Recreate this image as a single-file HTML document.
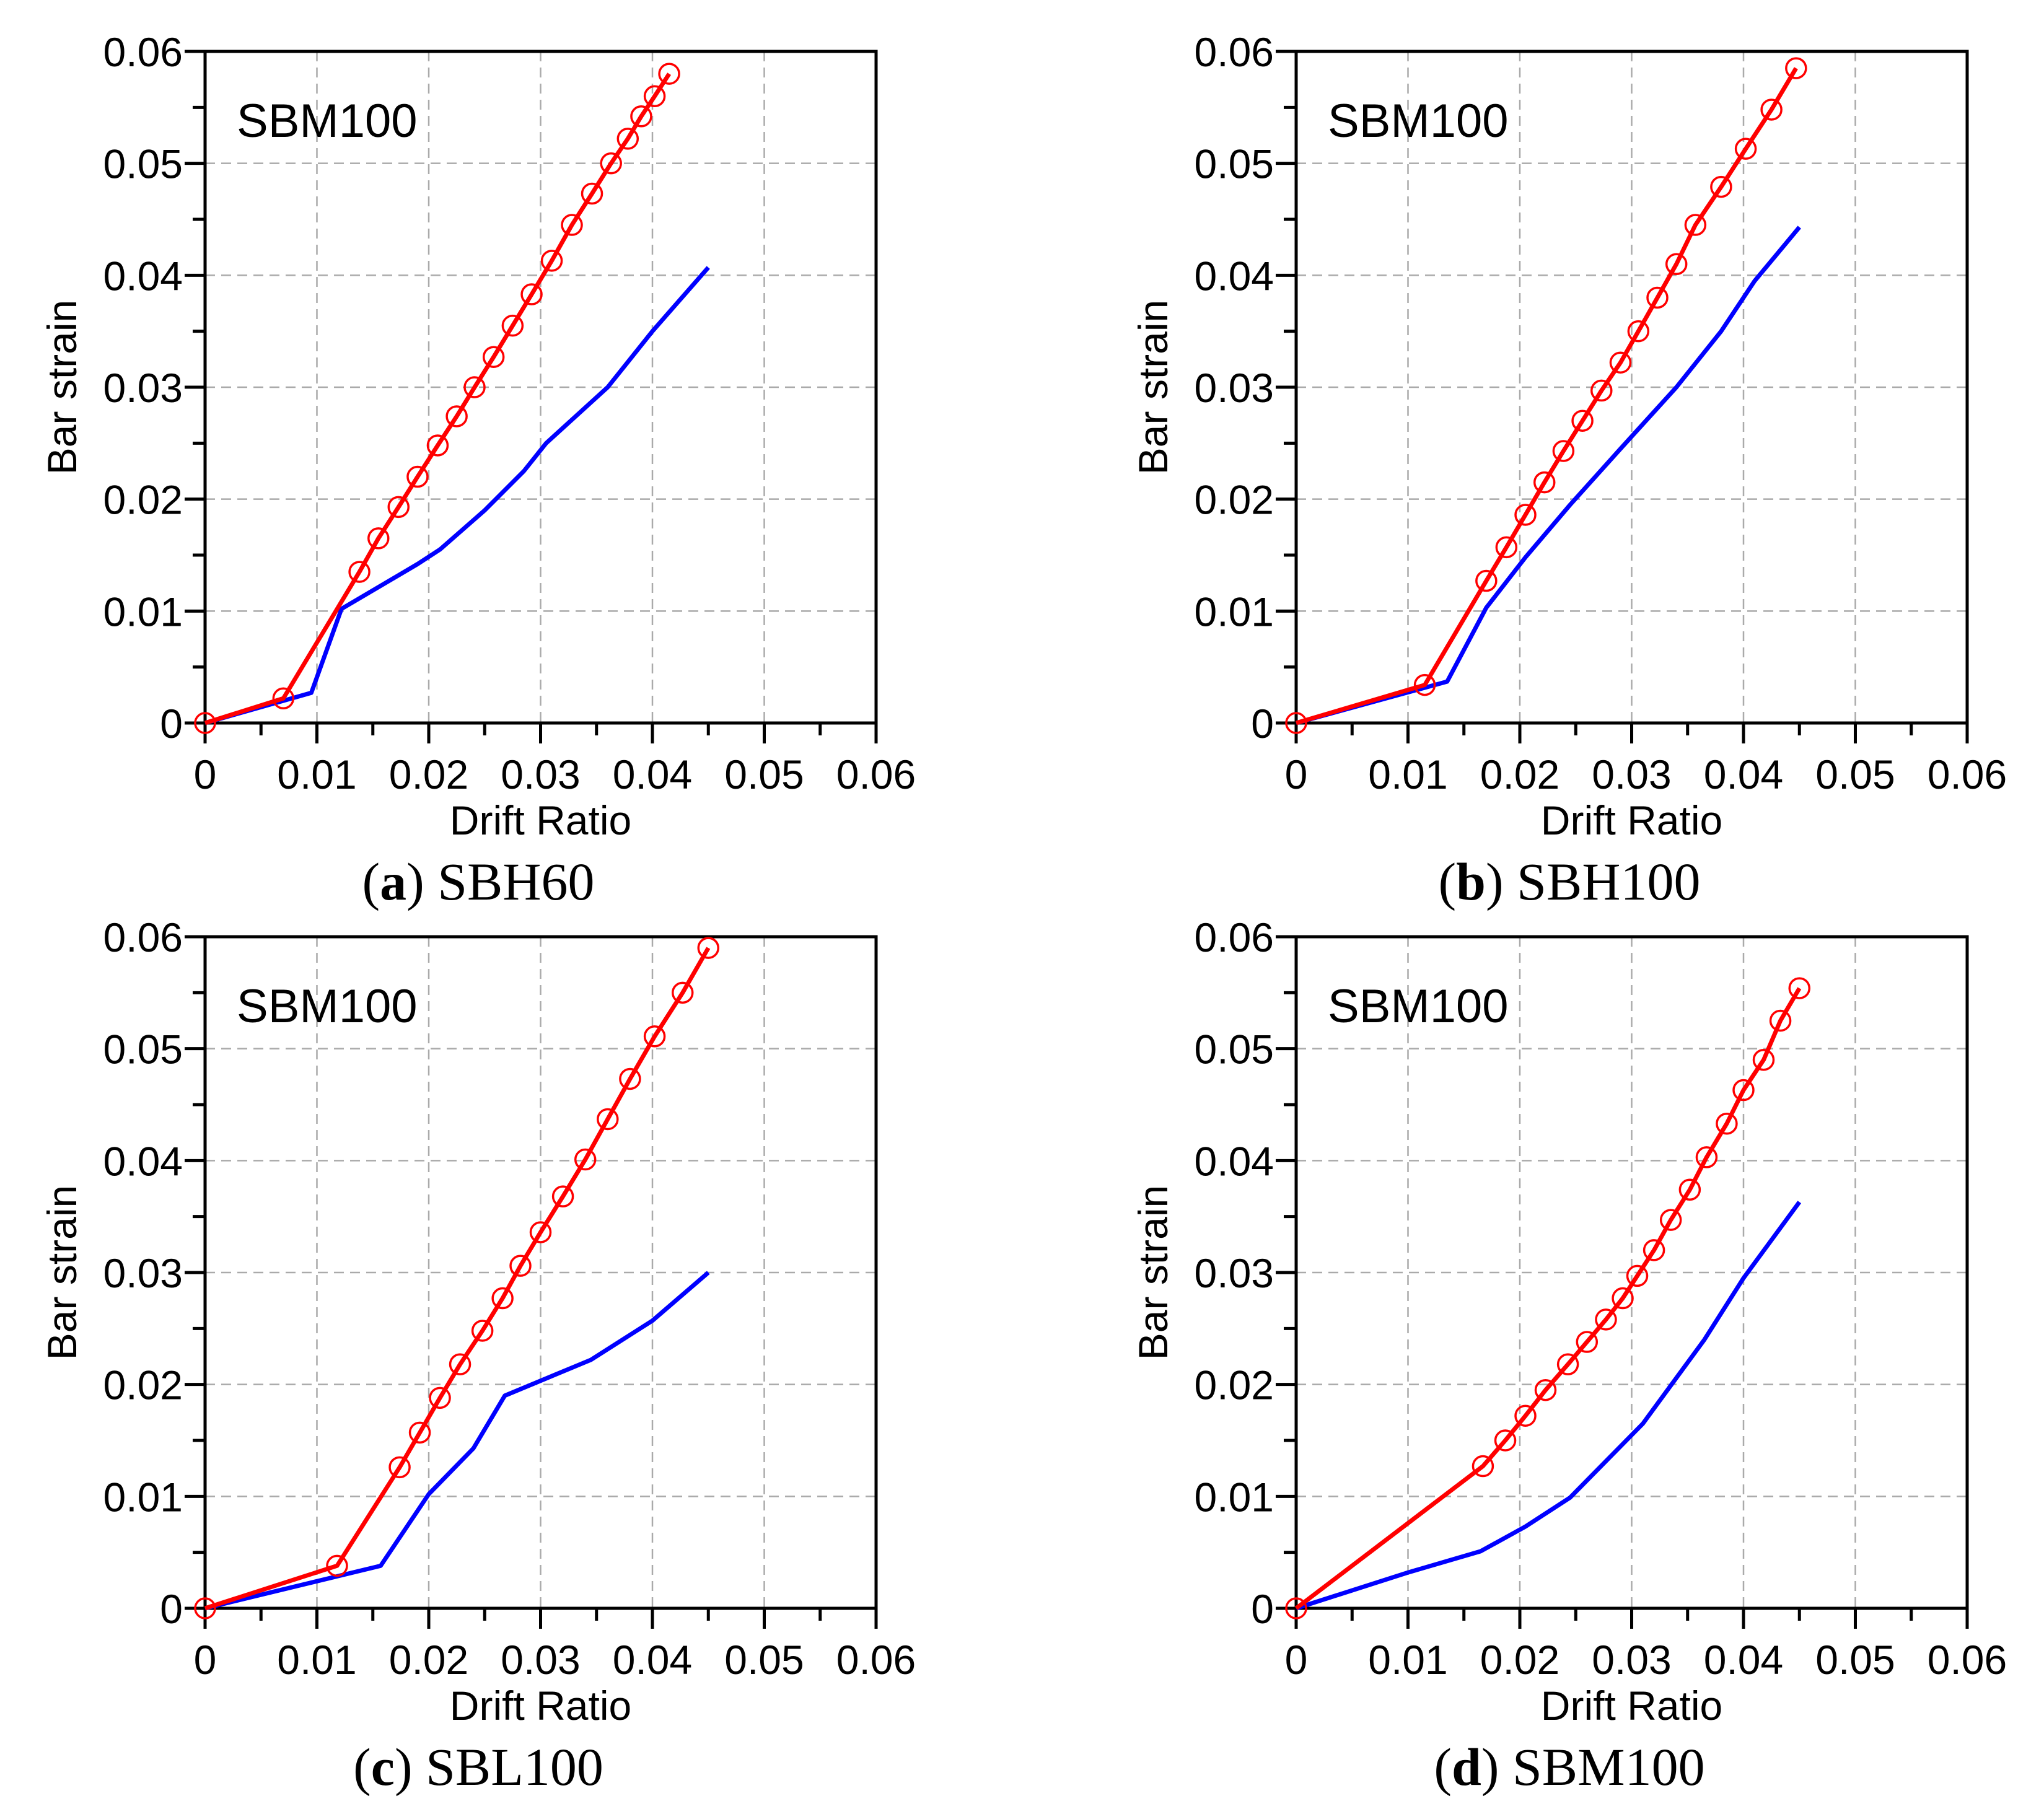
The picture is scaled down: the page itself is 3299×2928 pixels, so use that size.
<!DOCTYPE html>
<html><head><meta charset="utf-8">
<style>
html,body{margin:0;padding:0;background:#fff;}
svg{display:block;}
text{font-family:"Liberation Sans",sans-serif;}
</style></head>
<body>
<svg id="fig" width="3299" height="2928" viewBox="0 0 3299 2928" xmlns="http://www.w3.org/2000/svg"></svg>
<script>
// Panel data (drift ratio, bar strain)
const aRedX=[0,0.007,0.0138,0.0155,0.0173,0.019,0.0208,0.0225,0.0241,0.0258,0.0275,0.0292,0.031,0.0328,0.0346,0.0363,0.0378,0.039,0.0402,0.0415];
const aRedY=[0,0.0022,0.0135,0.0165,0.0193,0.022,0.0248,0.0274,0.030,0.0327,0.0355,0.0383,0.0413,0.0445,0.0473,0.050,0.0522,0.0542,0.056,0.058];
const aBlueX=[0,0.0095,0.0122,0.019,0.021,0.025,0.0285,0.0305,0.036,0.040,0.045];
const aBlueY=[0,0.0027,0.0102,0.0142,0.0155,0.019,0.0225,0.025,0.030,0.035,0.0407];
const bRedX=[0,0.0115,0.017,0.0188,0.0205,0.0222,0.0239,0.0256,0.0273,0.029,0.0306,0.0323,0.034,0.0357,0.038,0.0402,0.0425,0.0447];
const bRedY=[0,0.0034,0.0127,0.0157,0.0186,0.0215,0.0243,0.027,0.0297,0.0322,0.035,0.038,0.041,0.0445,0.0479,0.0513,0.0548,0.0585];
const bBlueX=[0,0.0135,0.017,0.0205,0.0245,0.029,0.034,0.038,0.041,0.045];
const bBlueY=[0,0.0037,0.0103,0.0148,0.0195,0.0245,0.030,0.035,0.0395,0.0443];
const cRedX=[0,0.0118,0.0174,0.0192,0.021,0.0228,0.0248,0.0266,0.0282,0.030,0.032,0.034,0.036,0.038,0.0402,0.0427,0.045];
const cRedY=[0,0.0038,0.0126,0.0157,0.0188,0.0218,0.0248,0.0277,0.0306,0.0336,0.0368,0.0401,0.0437,0.0473,0.0511,0.055,0.059];
const cBlueX=[0,0.0157,0.020,0.024,0.0268,0.0345,0.040,0.045];
const cBlueY=[0,0.0038,0.0102,0.0143,0.019,0.0222,0.0257,0.030];
const dRedX=[0,0.0167,0.0187,0.0205,0.0223,0.0243,0.026,0.0277,0.0292,0.0305,0.032,0.0335,0.0352,0.0367,0.0385,0.040,0.0418,0.0433,0.045];
const dRedY=[0,0.0127,0.015,0.0172,0.0195,0.0218,0.0238,0.0258,0.0277,0.0297,0.032,0.0347,0.0374,0.0403,0.0433,0.0463,0.049,0.0525,0.0554];
const dBlueX=[0,0.01,0.0165,0.0205,0.0245,0.031,0.0365,0.040,0.045];
const dBlueY=[0,0.0032,0.0051,0.0073,0.0099,0.0165,0.024,0.0295,0.0363];
const xTicks=[0,0.01,0.02,0.03,0.04,0.05,0.06];
const xTickLabels=["0","0.01","0.02","0.03","0.04","0.05","0.06"];
const yTicks=[0,0.01,0.02,0.03,0.04,0.05,0.06];
const yTickLabels=["0","0.01","0.02","0.03","0.04","0.05","0.06"];
const panelIds=["a","b","c","d"];
const captionNames=["SBH60","SBH100","SBL100","SBM100"];

const NS="http://www.w3.org/2000/svg";
const svg=document.getElementById('fig');
function mk(tag,attrs,parent){const e=document.createElementNS(NS,tag);for(const k in attrs)e.setAttribute(k,attrs[k]);(parent||svg).appendChild(e);return e;}

const panels=[
 {ox:331,oy:83,rx:aRedX,ry:aRedY,bx:aBlueX,by:aBlueY},
 {ox:2092,oy:83,rx:bRedX,ry:bRedY,bx:bBlueX,by:bBlueY},
 {ox:331,oy:1512,rx:cRedX,ry:cRedY,bx:cBlueX,by:cBlueY},
 {ox:2092,oy:1512,rx:dRedX,ry:dRedY,bx:dBlueX,by:dBlueY}
];
const W=1083,H=1084;

panels.forEach((p,i)=>{
  const g=mk('g',{});
  
  
  const sx=v=>p.ox+v/0.06*W;
  const sy=v=>p.oy+H-v/0.06*H;
  xTicks.forEach(t=>{if(t>0&&t<0.06){const l=mk('line',{x1:sx(t),x2:sx(t),y1:p.oy,y2:p.oy+H,stroke:'#aaa','stroke-width':2.5,'stroke-dasharray':'16,10'},g);
    }});
  yTicks.forEach(t=>{if(t>0&&t<0.06){const l=mk('line',{x1:p.ox,x2:p.ox+W,y1:sy(t),y2:sy(t),stroke:'#aaa','stroke-width':2.5,'stroke-dasharray':'16,10'},g);
    }});
  for(let k=0;k<=12;k++){const v=k*0.005;const len=(k%2==0)?33:20;
    mk('line',{x1:sx(v),x2:sx(v),y1:p.oy+H,y2:p.oy+H+len,stroke:'#000','stroke-width':5},g);
    mk('line',{x1:p.ox-len,x2:p.ox,y1:sy(v),y2:sy(v),stroke:'#000','stroke-width':5},g);}
  const fr=mk('rect',{x:p.ox,y:p.oy,width:W,height:H,fill:'none',stroke:'#000','stroke-width':5},g);
  
  xTicks.forEach((t,k)=>{const tx=mk('text',{x:sx(t),y:p.oy+H+106,'font-size':66,'text-anchor':'middle'},g);tx.textContent=xTickLabels[k];
    });
  yTicks.forEach((t,k)=>{const tx=mk('text',{x:p.ox-36,y:sy(t)+24,'font-size':66,'text-anchor':'end'},g);tx.textContent=yTickLabels[k];
    });
  const xt=mk('text',{x:p.ox+W/2,y:p.oy+H+180,'font-size':66,'text-anchor':'middle'},g);xt.textContent='Drift Ratio';
  
  const yx=p.ox-208,yy=p.oy+H/2;
  const yt=mk('text',{x:yx,y:yy,'font-size':66,'text-anchor':'middle',transform:'rotate(-90 '+yx+' '+yy+')'},g);yt.textContent='Bar strain';
  
  const lb=mk('text',{x:p.ox+51,y:p.oy+138,'font-size':76},g);lb.textContent='SBM100';
  
  const bp=mk('polyline',{points:p.bx.map((x,k)=>sx(x)+','+sy(p.by[k])).join(' '),fill:'none',stroke:'#0000ff','stroke-width':7,'stroke-linejoin':'round'},g);
  
  const rp=mk('polyline',{points:p.rx.map((x,k)=>sx(x)+','+sy(p.ry[k])).join(' '),fill:'none',stroke:'#ff0000','stroke-width':7,'stroke-linejoin':'round'},g);
  
  p.rx.forEach((x,k)=>{const c=mk('circle',{cx:sx(x),cy:sy(p.ry[k]),r:16,fill:'none',stroke:'#ff0000','stroke-width':3.5},g);
    });
  const cap=mk('text',{x:p.ox+441,y:p.oy+1369,'font-size':86,'text-anchor':'middle',style:'font-family:"Liberation Serif",serif'},g);
  
  const t1=mk('tspan',{},cap);t1.textContent='(';
  const t2=mk('tspan',{'font-weight':'bold'},cap);t2.textContent=panelIds[i];
  const t3=mk('tspan',{},cap);t3.textContent=') '+captionNames[i];
});
</script>
</body></html>
